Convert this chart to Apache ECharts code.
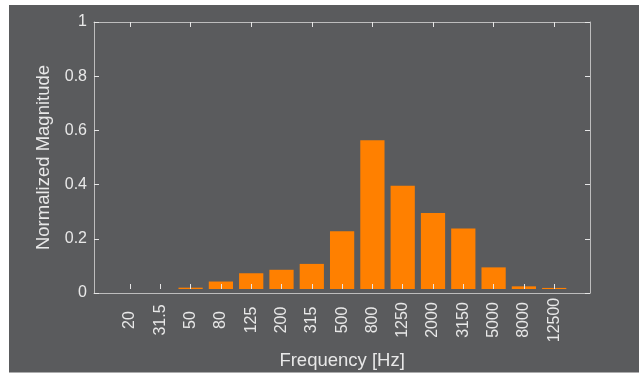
<!DOCTYPE html>
<html>
<head>
<meta charset="utf-8">
<script src="https://cdn.jsdelivr.net/npm/echarts@6/dist/echarts.min.js"></script>
<style>
  html, body { margin: 0; padding: 0; background: #ffffff; }
  #chart { width: 639px; height: 375px; }
</style>
</head>
<body>
<div id="chart"></div>
<script>
// Octave-band centre frequencies (Hz) used as category tick labels
const bands = ['20', '31.5', '50', '80', '125', '200', '315', '500', '800', '1250', '2000', '3150', '5000', '8000', '12500'];
// Normalized magnitude for each band
const magnitude = [0, 0, 0.005, 0.028, 0.059, 0.072, 0.094, 0.216, 0.557, 0.387, 0.285, 0.227, 0.081, 0.010, 0.004];

const FONT = "'Liberation Sans', Arial, Helvetica, sans-serif";
const LINE = '#bdbdbd';
const TEXT = '#e8e8e8';
const TICK = { show: true, inside: true, length: 5, lineStyle: { color: '#e6e6e6' } };

const chart = echarts.init(document.getElementById('chart'), null, { renderer: 'canvas' });

// Plain frame line (box edge) with no ticks or labels
const frameX = (pos) => ({
  gridIndex: 0, type: 'value', min: 0, max: 1, position: pos, z: 10,
  axisLine: { show: true, onZero: false, lineStyle: { color: LINE, width: 1 } },
  axisTick: { show: false }, axisLabel: { show: false }, splitLine: { show: false }
});

chart.setOption({
  animation: false,
  backgroundColor: 'transparent',
  graphic: [{
    type: 'rect', z: -10, silent: true,
    shape: { x: 9, y: 5, width: 630, height: 367.5 },
    style: { fill: '#5a5b5d' }
  }],
  grid: [
    // box frame
    { left: 94, right: 49, top: 22, bottom: 82 },
    // bar area: category centres spaced inside the frame
    { left: 114.85, right: 69.65, top: 22, bottom: 82 }
  ],
  xAxis: [
    frameX('bottom'),
    frameX('top'),
    {
      gridIndex: 1, type: 'category', data: bands, position: 'bottom', z: 10,
      axisLine: { show: false, onZero: false },
      axisTick: Object.assign({ alignWithLabel: true }, TICK),
      axisLabel: { rotate: 90, align: 'center', verticalAlign: 'middle', margin: 31, color: TEXT, fontSize: 16, fontFamily: FONT, interval: 0 },
      name: 'Frequency [Hz]', nameLocation: 'middle', nameGap: 62,
      nameTextStyle: { color: TEXT, fontSize: 18.5, fontFamily: FONT }
    },
    {
      gridIndex: 1, type: 'category', data: bands, position: 'top', z: 10,
      axisLine: { show: false, onZero: false },
      axisTick: Object.assign({ alignWithLabel: true }, TICK),
      axisLabel: { show: false }
    }
  ],
  yAxis: [
    {
      gridIndex: 0, type: 'value', min: 0, max: 1, interval: 0.2, position: 'left', z: 10,
      axisLine: { show: true, onZero: false, lineStyle: { color: LINE, width: 1 } },
      axisTick: TICK,
      axisLabel: { margin: 7, color: TEXT, fontSize: 16, fontFamily: FONT },
      splitLine: { show: false },
      name: 'Normalized Magnitude', nameLocation: 'middle', nameGap: 32,
      nameTextStyle: { color: TEXT, fontSize: 18.5, fontFamily: FONT }
    },
    {
      gridIndex: 0, type: 'value', min: 0, max: 1, interval: 0.2, position: 'right', z: 10,
      axisLine: { show: true, onZero: false, lineStyle: { color: LINE, width: 1 } },
      axisTick: TICK,
      axisLabel: { show: false }, splitLine: { show: false }
    },
    { gridIndex: 1, type: 'value', min: 0, max: 1, show: false }
  ],
  series: [{
    type: 'bar', xAxisIndex: 2, yAxisIndex: 2, z: 2,
    data: magnitude,
    barWidth: '80%',
    itemStyle: { color: '#ff8000', borderWidth: 0 }
  }]
});
</script>
</body>
</html>
